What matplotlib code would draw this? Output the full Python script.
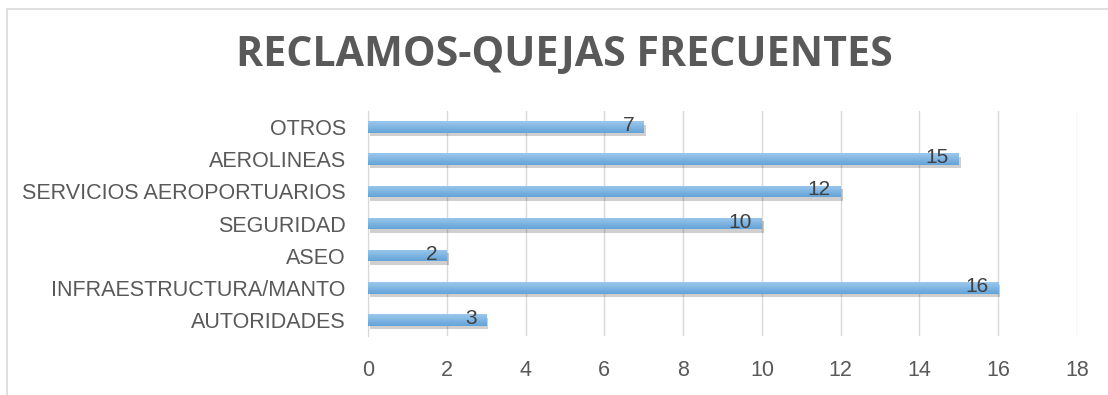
import numpy as np
import matplotlib
matplotlib.use('Agg')
import matplotlib.pyplot as plt
from matplotlib.patches import Rectangle
import matplotlib.patheffects as pe

# Datos
categorias = ['AUTORIDADES', 'INFRAESTRUCTURA/MANTO', 'ASEO', 'SEGURIDAD',
              'SERVICIOS AEROPORTUARIOS', 'AEROLINEAS', 'OTROS']
valores = [3, 16, 2, 10, 12, 15, 7]
ticks_x = [0, 2, 4, 6, 8, 10, 12, 14, 16, 18]

texto = '#595959'
fig = plt.figure(figsize=(11.08, 3.95), dpi=100)

# Marco del gráfico
fig.patches.append(Rectangle((7 / 1108, -0.1), 1.2, 1 - 9 / 395 + 0.1,
                             transform=fig.transFigure, fill=False,
                             edgecolor='#D9D9D9', linewidth=1.2))

ax = fig.add_axes([368 / 1108, 1 - 336 / 395, (1077 - 368) / 1108, 225 / 395])

y = np.arange(len(categorias))
barras = ax.barh(y, valores, height=0.36, color='#7DB4E0', zorder=3,
                 path_effects=[pe.SimplePatchShadow(offset=(1.5, -2.5), alpha=0.25,
                                                    shadow_rgbFace='#404040'),
                               pe.Normal()])

# Degradado en cada barra
grad = np.linspace(0, 1, 50).reshape(-1, 1)
cmap = matplotlib.colors.LinearSegmentedColormap.from_list('g', ['#64A3D8', '#9CC8EC'])
for b in barras:
    x0, y0 = b.get_x(), b.get_y()
    im = ax.imshow(grad, extent=(x0, x0 + b.get_width(), y0, y0 + b.get_height()),
                   cmap=cmap, aspect='auto', origin='lower', zorder=4)
    im.set_clip_path(b)

for v, yy in zip(valores, y):
    ax.annotate(str(v), (v, yy), xytext=(-7, 1), textcoords='offset points',
                ha='right', va='center', fontsize=15, color='#404040', zorder=5,
                family='Liberation Sans')

ax.set_xlim(0, 18)
ax.set_ylim(-0.5, len(categorias) - 0.5)
ax.set_xticks(ticks_x)
ax.set_yticks(y, categorias)
ax.grid(axis='x', color='#D9D9D9', linewidth=1, zorder=0)
for s in ['top', 'right', 'bottom']:
    ax.spines[s].set_visible(False)
ax.spines['left'].set_color('#D9D9D9')
ax.tick_params(length=0, labelsize=15.5, labelcolor=texto)
ax.tick_params(axis='x', pad=17)
ax.tick_params(axis='y', pad=16)
for lbl in ax.get_xticklabels() + ax.get_yticklabels():
    lbl.set_fontfamily('Liberation Sans')

fig.text(564 / 1108, 1 - 56 / 395, 'RECLAMOS-QUEJAS FRECUENTES', ha='center', va='center',
         fontsize=29.6, fontweight='bold', color=texto, family='Open Sans')

fig.savefig('out.png', dpi=100)
